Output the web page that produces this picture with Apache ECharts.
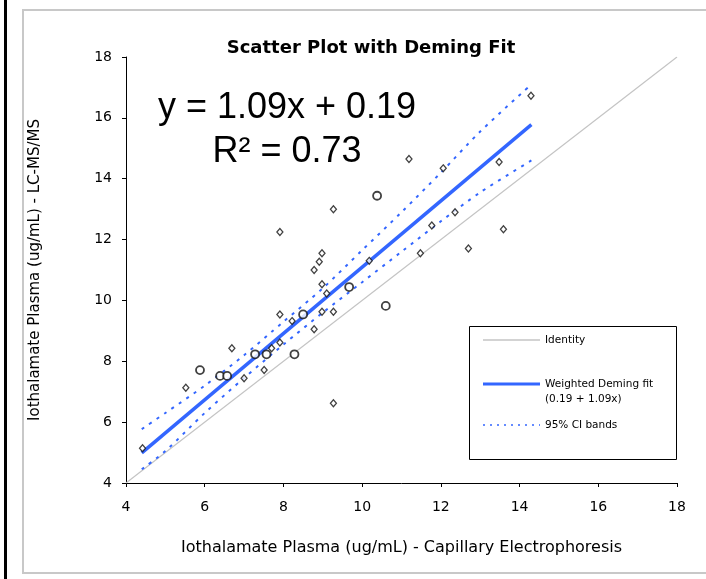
<!DOCTYPE html>
<html><head><meta charset="utf-8">
<script src="https://cdn.jsdelivr.net/npm/echarts@6/dist/echarts.min.js"></script>
<style>html,body{margin:0;padding:0;background:#fff}#c{width:706px;height:579px}</style>
</head><body><div id="c"></div>
<script>
// ---- data ----
const xTicks = [4, 6, 8, 10, 12, 14, 16, 18];
const yTicks = [4, 6, 8, 10, 12, 14, 16, 18];
const identityLine = [[4, 4], [18, 18]];
const fitLine = [[4.4, 4.99], [14.3, 15.78]];
const ciUpper = [[4.4,5.77],[5,6.3],[6,7.2],[7,8.2],[8,9.3],[9,10.4],[10,11.65],[11,12.9],[12,14.2],[13,15.55],[14.3,17.1]];
const ciLower = [[4.4,4.45],[5,5.05],[6,6.3],[7,7.45],[8,8.55],[9,9.6],[10,10.6],[11,11.6],[12,12.6],[13,13.55],[14.3,14.6]];
const circlePoints = [[10.38,13.44],[9.67,10.44],[10.60,9.82],[8.50,9.54],[7.28,8.23],[7.57,8.23],[8.28,8.23],[5.88,7.71],[6.39,7.52],[6.57,7.52]];
const diamondPoints = [[11.19,14.65],[9.27,13.0],[7.91,12.25],[8.98,11.55],[8.91,11.27],[8.78,11.0],[10.18,11.30],[8.98,10.53],[9.10,10.23],[7.91,9.54],[8.98,9.63],[9.27,9.63],[8.22,9.32],[8.78,9.05],[7.91,8.62],[7.70,8.43],[6.69,8.43],[7.51,7.71],[7.0,7.44],[5.52,7.13],[9.27,6.62],[4.42,5.14],[14.29,16.73],[12.06,14.34],[13.48,14.55],[12.36,12.90],[11.77,12.46],[13.59,12.34],[12.70,11.71],[11.48,11.55]];

const D = '"DejaVu Sans", sans-serif';
const chart = echarts.init(document.getElementById('c'), null, {renderer: 'canvas'});
const blue = '#3366ff';
chart.setOption({
  animation: false,
  backgroundColor: '#fff',
  title: {text: 'Scatter Plot with Deming Fit', left: 366, top: 34, textAlign: 'center',
    textStyle: {fontFamily: D, fontWeight: 'bold', fontSize: 18, color: '#000'}},
  grid: {left: 126, top: 57, width: 551, height: 426, containLabel: false},
  xAxis: {type: 'value', min: 4, max: 18, interval: 2, splitLine: {show: false},
    axisLine: {onZero: false, lineStyle: {color: '#000', width: 1}},
    axisTick: {show: true, length: 4, lineStyle: {color: '#000'}},
    axisLabel: {margin: 17, fontFamily: D, fontSize: 14, color: '#000',
      formatter: v => xTicks.includes(v) ? String(v) : ''},
    name: 'Iothalamate Plasma (ug/mL) - Capillary Electrophoresis', nameLocation: 'middle', nameGap: 57,
    nameTextStyle: {fontFamily: D, fontSize: 16, color: '#000'}},
  yAxis: {type: 'value', min: 4, max: 18, interval: 2, splitLine: {show: false},
    axisLine: {onZero: false, lineStyle: {color: '#000', width: 1}},
    axisTick: {show: true, length: 4, lineStyle: {color: '#000'}},
    axisLabel: {margin: 14, fontFamily: D, fontSize: 14, color: '#000',
      formatter: v => yTicks.includes(v) ? String(v) : ''},
    name: 'Iothalamate Plasma (ug/mL) - LC-MS/MS', nameLocation: 'middle', nameGap: 83,
    nameTextStyle: {fontFamily: D, fontSize: 15, color: '#000'}},
  series: [
    {type: 'line', data: identityLine, symbol: 'none', lineStyle: {color: '#c4c4c4', width: 1.2}, z: 2},
    {type: 'line', data: ciUpper, symbol: 'none', smooth: 0.3, lineStyle: {color: blue, width: 2, type: [3, 6]}, z: 3},
    {type: 'line', data: ciLower, symbol: 'none', smooth: 0.3, lineStyle: {color: blue, width: 2, type: [3, 6]}, z: 3},
    {type: 'line', data: fitLine, symbol: 'none', lineStyle: {color: blue, width: 3.5}, z: 4},
    {type: 'scatter', data: diamondPoints, symbol: 'diamond', symbolSize: [6, 7],
      itemStyle: {color: '#fff', borderColor: '#111', borderWidth: 1.3}, z: 5},
    {type: 'scatter', data: circlePoints, symbol: 'circle', symbolSize: 8,
      itemStyle: {color: '#fff', borderColor: '#111', borderWidth: 1.8}, z: 5}
  ],
  graphic: [
    {type: 'rect', shape: {x: 4, y: 0, width: 3, height: 579}, style: {fill: '#000'}, silent: true},
    {type: 'rect', shape: {x: 23, y: 10, width: 700, height: 563}, style: {fill: 'none', stroke: '#c8c8c8', lineWidth: 2}, silent: true, z: -1},
    {type: 'text', x: 287, y: 108, style: {text: 'y = 1.09x + 0.19', font: '36px "Liberation Sans", Arial, sans-serif', fill: '#000', textAlign: 'center', textVerticalAlign: 'middle'}},
    {type: 'text', x: 287, y: 152, style: {text: 'R² = 0.73', font: '36px "Liberation Sans", Arial, sans-serif', fill: '#000', textAlign: 'center', textVerticalAlign: 'middle'}},
    {type: 'rect', shape: {x: 469.5, y: 326.5, width: 207, height: 133}, style: {fill: '#fff', stroke: '#000', lineWidth: 1}, z: 10},
    {type: 'line', shape: {x1: 483, y1: 340, x2: 540, y2: 340}, style: {stroke: '#c4c4c4', lineWidth: 1.5}, z: 11},
    {type: 'text', x: 545, y: 340, style: {text: 'Identity', font: '10.5px "DejaVu Sans", sans-serif', fill: '#000', textVerticalAlign: 'middle'}, z: 11},
    {type: 'line', shape: {x1: 483, y1: 384, x2: 540, y2: 384}, style: {stroke: blue, lineWidth: 3}, z: 11},
    {type: 'text', x: 545, y: 384, style: {text: 'Weighted Deming fit', font: '10.5px "DejaVu Sans", sans-serif', fill: '#000', textVerticalAlign: 'middle'}, z: 11},
    {type: 'text', x: 545, y: 399, style: {text: '(0.19 + 1.09x)', font: '10.5px "DejaVu Sans", sans-serif', fill: '#000', textVerticalAlign: 'middle'}, z: 11},
    {type: 'line', shape: {x1: 483, y1: 425, x2: 540, y2: 425}, style: {stroke: blue, lineWidth: 1.5, lineDash: [2, 5]}, z: 11},
    {type: 'text', x: 545, y: 425, style: {text: '95% CI bands', font: '10.5px "DejaVu Sans", sans-serif', fill: '#000', textVerticalAlign: 'middle'}, z: 11}
  ]
});
</script></body></html>
